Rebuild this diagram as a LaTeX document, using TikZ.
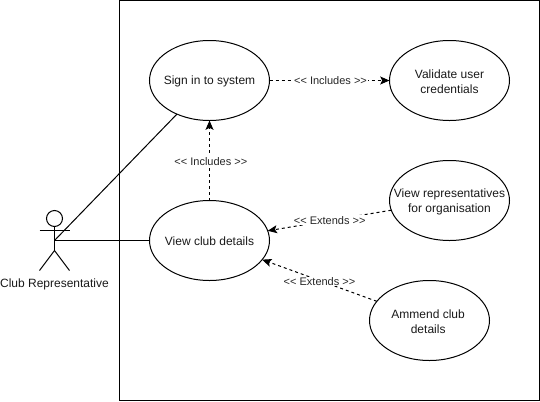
\documentclass[tikz,border=0pt]{standalone}
\usepackage{fontspec}
\setmainfont{Liberation Sans}
\usetikzlibrary{arrows.meta,shapes.geometric}
\begin{document}
\begin{tikzpicture}[x=0.75pt,y=-0.75pt,line width=0.75pt,outer sep=0pt,
  usecase/.style={draw,ellipse,minimum width=90pt,minimum height=60pt,inner sep=0pt},
  casetext/.style={align=center,inner sep=0pt,yshift=-0.6pt,font=\fontsize{9}{11.25}\selectfont,text=black!90},
  rel/.style={draw,dashed,dash pattern=on 2.25pt off 2.25pt,-{Stealth[length=7pt,width=6pt,inset=1.5pt]}},
  lab/.style={fill=white,inner sep=0.6pt,font=\fontsize{8.25}{10}\selectfont,text=black!85},
  assoc/.style={draw}]
\useasboundingbox (0,0) rectangle (540,401);
\node[draw,minimum width=315pt,minimum height=300pt,inner sep=0pt,anchor=north west] (sys) at (119.5,0.5) {};
\node[usecase,label={[casetext]center:Sign in to system}] (signin) at (209.5,80.5) {};
\node[usecase,label={[casetext]center:Validate user\\credentials}] (validate) at (449.5,80.5) {};
\node[usecase,label={[casetext]center:View club details}] (view) at (209.5,240.5) {};
\node[usecase,label={[casetext,yshift=-0.5pt]center:View representatives\\for organisation}] (reps) at (449.5,200.5) {};
\node[usecase,label={[casetext,xshift=-1pt]center:Ammend club\\details}] (amend) at (429.5,320.5) {};
% actor
\node[draw,circle,minimum size=12pt,inner sep=0pt] (head) at (54.5,218.5) {};
\coordinate (hip) at (54.5,250.5);
\coordinate (armL) at (39.5,230.5);
\coordinate (armR) at (69.5,230.5);
\coordinate (legL) at (39.5,270.5);
\coordinate (legR) at (69.5,270.5);
\coordinate (actor) at (54.5,240.5);
\draw (head.south) -- (hip);
\draw (armL) -- (armR);
\draw (legL) -- (hip) -- (legR);
\node[font=\fontsize{9}{12}\selectfont,text=black!90,inner sep=0pt] (actorlabel) at (54.5,284) {Club Representative};
% connectors
\draw[assoc] (actor) -- (view);
\draw[assoc] (actor) -- (signin);
\draw[rel] (signin) -- node[lab,pos=0.5,xshift=0.75pt] {<{}< Includes >{}>} (validate);
\draw[rel] (view) -- node[lab,pos=0.49,xshift=1pt] {<{}< Includes >{}>} (signin);
\draw[rel] (reps) -- node[lab,pos=0.49,xshift=-0.75pt] {<{}< Extends >{}>} (view);
\draw[rel] (amend) -- node[lab,pos=0.5,yshift=-0.75pt] {<{}< Extends >{}>} (view);
\end{tikzpicture}
\end{document}
